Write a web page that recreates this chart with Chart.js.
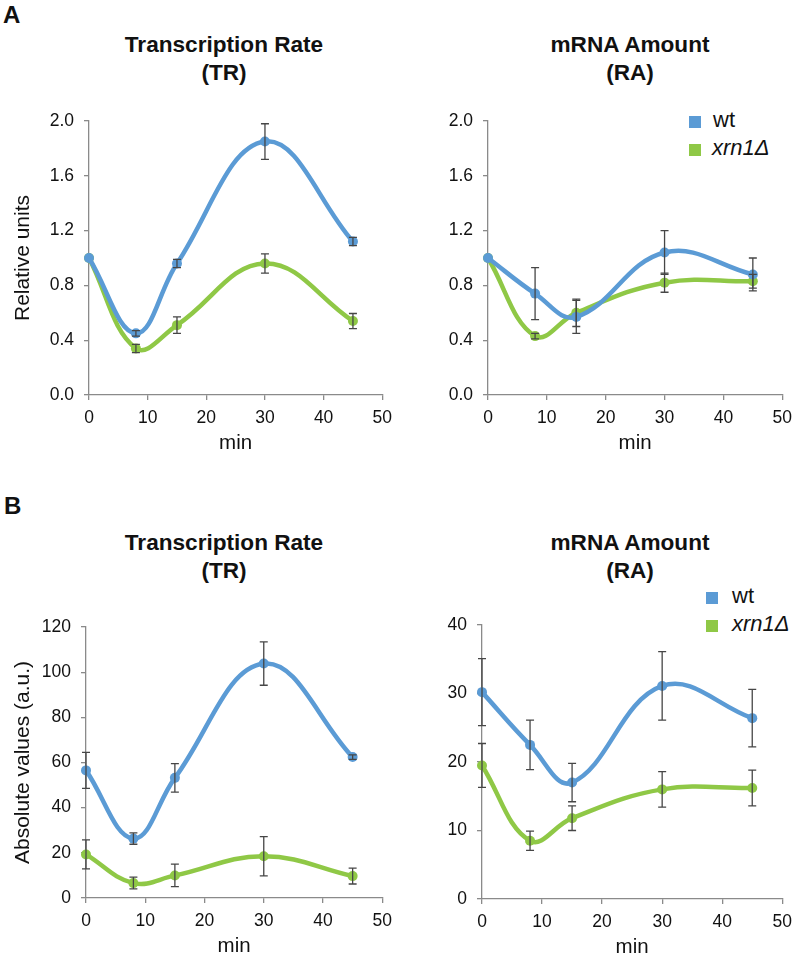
<!DOCTYPE html>
<html>
<head>
<meta charset="utf-8">
<script src="https://cdn.jsdelivr.net/npm/chart.js@4.4.0/dist/chart.umd.min.js"></script>
<style>
  body { margin: 0; width: 800px; height: 955px; overflow: hidden; background: #fff; position: relative;
         font-family: 'Liberation Sans', Arial, sans-serif; color: #111; }
  canvas, .lbl { position: absolute; }
  .panel { font-weight: bold; font-size: 24px; line-height: 28px; }
  .title { font-weight: bold; font-size: 22.6px; line-height: 28px; text-align: center; width: 320px; }
  .sw { width: 12px; height: 12px; }
  .leg { font-size: 22px; line-height: 28px; }
</style>
</head>
<body>
<div class="lbl panel" style="left:3px; top:1px;">A</div>
<div class="lbl panel" style="left:4px; top:492px;">B</div>

<div class="lbl title" style="left:64px; top:31px;">Transcription Rate<br>(TR)</div>
<div class="lbl title" style="left:470px; top:31px;">mRNA Amount<br>(RA)</div>
<div class="lbl title" style="left:64px; top:529px;">Transcription Rate<br>(TR)</div>
<div class="lbl title" style="left:470px; top:529px;">mRNA Amount<br>(RA)</div>

<div class="lbl sw" style="left:689px; top:116px; background:#5b9bd5;"></div>
<div class="lbl leg" style="left:713px; top:106px;">wt</div>
<div class="lbl sw" style="left:689px; top:144px; background:#8fc846;"></div>
<div class="lbl leg" style="left:712px; top:134px;"><i>xrn1Δ</i></div>

<div class="lbl sw" style="left:706px; top:592px; background:#5b9bd5;"></div>
<div class="lbl leg" style="left:732px; top:582px;">wt</div>
<div class="lbl sw" style="left:706px; top:620px; background:#8fc846;"></div>
<div class="lbl leg" style="left:732px; top:610px;"><i>xrn1Δ</i></div>

<canvas id="trRel" style="left:0px; top:0px;"></canvas>
<canvas id="raRel" style="left:400px; top:0px;"></canvas>
<canvas id="trAbs" style="left:0px; top:470px;"></canvas>
<canvas id="raAbs" style="left:400px; top:470px;"></canvas>

<script>
const MINUTES = [0, 8, 15, 30, 45];

// A: relative units
const TR_REL_WT = [1.00, 0.45, 0.96, 1.85, 1.12];
const TR_REL_WT_ERR = [0, 0.02, 0.03, 0.13, 0.03];
const TR_REL_XRN1 = [1.00, 0.34, 0.51, 0.96, 0.54];
const TR_REL_XRN1_ERR = [0, 0.03, 0.06, 0.07, 0.055];

const RA_REL_WT = [1.00, 0.74, 0.57, 1.04, 0.88];
const RA_REL_WT_ERR = [0, 0.19, 0.12, 0.16, 0.12];
const RA_REL_XRN1 = [1.00, 0.43, 0.60, 0.82, 0.83];
const RA_REL_XRN1_ERR = [0, 0.02, 0.10, 0.07, 0.05];

// B: absolute values (a.u.)
const TR_ABS_WT = [56.5, 26.3, 53.2, 103.8, 62.4];
const TR_ABS_WT_ERR = [8, 2.5, 6.3, 9.6, 1];
const TR_ABS_XRN1 = [19.3, 6.6, 10.0, 18.5, 9.7];
const TR_ABS_XRN1_ERR = [6.4, 2.6, 5, 8.7, 3.5];

const RA_ABS_WT = [30.2, 22.5, 17.0, 31.1, 26.4];
const RA_ABS_WT_ERR = [4.9, 3.6, 2.8, 5, 4.2];
const RA_ABS_XRN1 = [19.5, 8.5, 11.8, 16.0, 16.2];
const RA_ABS_XRN1_ERR = [3.2, 1.4, 1.8, 2.6, 2.6];

const BLUE = '#5b9bd5';
const GREEN = '#8fc846';
const AXIS_GREY = '#8a8a8a';
const FONT = "'Liberation Sans', Arial, sans-serif";

// vertical error bars with caps, on top of the curves
const errorBars = {
    id: 'errorBars',
    afterDatasetsDraw(chart) {
        const ctx = chart.ctx;
        const xs = chart.scales.x, ys = chart.scales.y;
        ctx.save();
        ctx.strokeStyle = '#464646';
        ctx.lineWidth = 1.3;
        for (let ds of chart.data.datasets) {
            ds.errors.forEach((e, i) => {
                if (!e) return;
                const p = ds.data[i];
                const px = xs.getPixelForValue(p.x);
                const top = ys.getPixelForValue(p.y + e);
                const bot = ys.getPixelForValue(p.y - e);
                ctx.beginPath();
                ctx.moveTo(px, top); ctx.lineTo(px, bot);
                ctx.moveTo(px - 4, top); ctx.lineTo(px + 4, top);
                ctx.moveTo(px - 4, bot); ctx.lineTo(px + 4, bot);
                ctx.stroke();
            });
        }
        ctx.restore();
    }
};

function toPoints(values) {
    return MINUTES.map((m, i) => ({x: m, y: values[i]}));
}

function series(label, color, values, errors) {
    return {
        label: label,
        data: toPoints(values),
        errors: errors,
        borderColor: color,
        backgroundColor: color,
        borderWidth: 4.5,
        pointRadius: 5,
        pointBorderWidth: 0,
        tension: 0.4,
        clip: false
    };
}

function plotPanel(id, w, area, yMax, yStep, decimals, yTitle, wt, wtErr, xrn, xrnErr) {
    const h = area.bottom + 65;
    const canvas = document.getElementById(id);
    canvas.width = w;
    canvas.height = h;

    const data = {
        datasets: [
            series('wt', BLUE, wt, wtErr),
            series('xrn1Δ', GREEN, xrn, xrnErr)
        ]
    };

    const config = {
        type: 'line',
        data: data,
        options: {
            responsive: false,
            animation: false,
            layout: { padding: { left: 0, top: area.top, right: w - area.right, bottom: 0 } },
            plugins: { legend: { display: false }, tooltip: { enabled: false } },
            scales: {
                x: {
                    type: 'linear', min: 0, max: 50,
                    ticks: { stepSize: 10, padding: 8, color: '#111', font: { family: FONT, size: 17.5 } },
                    grid: { drawOnChartArea: false, tickLength: 5, color: AXIS_GREY, lineWidth: 1.3 },
                    border: { color: AXIS_GREY, width: 1.3 },
                    title: { display: true, text: 'min', color: '#111', font: { family: FONT, size: 20.5 },
                             padding: { top: 0, bottom: 4 } },
                    afterFit: s => { s.height = h - area.bottom; }
                },
                y: {
                    min: 0, max: yMax,
                    ticks: { stepSize: yStep, padding: 10, color: '#111', font: { family: FONT, size: 17.5 },
                             callback: v => v.toFixed(decimals) },
                    grid: { drawOnChartArea: false, tickLength: 5, color: AXIS_GREY, lineWidth: 1.3 },
                    border: { color: AXIS_GREY, width: 1.3 },
                    title: { display: !!yTitle, text: yTitle, color: '#111', font: { family: FONT, size: 21 },
                             padding: { top: 11, bottom: 0 } },
                    afterFit: s => { s.width = area.left; }
                }
            }
        },
        plugins: [errorBars]
    };

    return new Chart(canvas, config);
}

plotPanel('trRel', 400, {left: 89, right: 388, top: 121, bottom: 395}, 2.0, 0.4, 1, 'Relative units',
    TR_REL_WT, TR_REL_WT_ERR, TR_REL_XRN1, TR_REL_XRN1_ERR);
plotPanel('raRel', 400, {left: 88, right: 387, top: 121, bottom: 395}, 2.0, 0.4, 1, '',
    RA_REL_WT, RA_REL_WT_ERR, RA_REL_XRN1, RA_REL_XRN1_ERR);
plotPanel('trAbs', 400, {left: 86, right: 388, top: 157, bottom: 428}, 120, 20, 0, 'Absolute values (a.u.)',
    TR_ABS_WT, TR_ABS_WT_ERR, TR_ABS_XRN1, TR_ABS_XRN1_ERR);
plotPanel('raAbs', 400, {left: 82, right: 388, top: 155, bottom: 429}, 40, 10, 0, '',
    RA_ABS_WT, RA_ABS_WT_ERR, RA_ABS_XRN1, RA_ABS_XRN1_ERR);
</script>
</body>
</html>
